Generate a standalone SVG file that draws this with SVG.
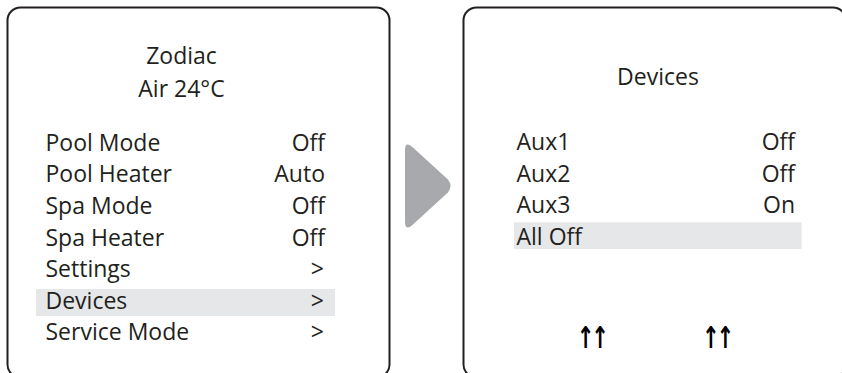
<svg xmlns="http://www.w3.org/2000/svg" width="842" height="373" viewBox="0 0 842 373">
<style>
.panel{fill:#fff;stroke:#231f20;stroke-width:2}
.hl{fill:#e6e7e8}
text{font-family:"Open Sans","Noto Sans","Liberation Sans",sans-serif;font-size:23px;fill:#231f20}
.m{text-anchor:middle}
.r{text-anchor:end}
.arr{font-family:"DejaVu Sans",sans-serif;font-weight:bold;font-size:30px;letter-spacing:-4.4px;fill:#000;font-variant-emoji:text}
</style>
<rect width="842" height="373" fill="#fff"/>
<g id="screen-main">
<rect class="panel" x="7.5" y="7.5" width="382" height="370" rx="13" ry="13"/>
<text class="m" x="181.5" y="64">Zodiac</text>
<text class="m" x="181.5" y="96.5">Air 24°C</text>
<rect class="hl" x="36" y="289" width="299" height="27"/>
<text x="45.5" y="150.7">Pool Mode</text><text class="r" x="325" y="150.7">Off</text>
<text x="45.5" y="182">Pool Heater</text><text class="r" x="325" y="182">Auto</text>
<text x="45.5" y="214">Spa Mode</text><text class="r" x="325" y="214">Off</text>
<text x="45.5" y="245.5">Spa Heater</text><text class="r" x="325" y="245.5">Off</text>
<text x="45.5" y="277">Settings</text><text class="r" x="324" y="277">&gt;</text>
<text x="45.5" y="308.5">Devices</text><text class="r" x="324" y="308.5">&gt;</text>
<text x="45.5" y="340">Service Mode</text><text class="r" x="324" y="340">&gt;</text>
</g>
<g id="connectors">
<path d="M406,150 Q406,142 412,148 L447,180 Q452,186 447,192 L412,224 Q406,230 406,222 Z" fill="#a7a9ac" stroke="#a7a9ac" stroke-width="2" stroke-linejoin="round"/>
</g>
<g id="screen-devices">
<rect class="panel" x="463.5" y="7.5" width="382.5" height="370" rx="13" ry="13"/>
<text class="m" x="658" y="85">Devices</text>
<rect class="hl" x="514" y="222.3" width="287.7" height="26.7"/>
<text x="516.5" y="150">Aux1</text><text class="r" x="795" y="150">Off</text>
<text x="516.5" y="181.5">Aux2</text><text class="r" x="795" y="181.5">Off</text>
<text x="516.5" y="213">Aux3</text><text class="r" x="795" y="213">On</text>
<text x="516.5" y="245">All Off</text>
<text class="arr" transform="translate(576.7,348) scale(0.7,1)">↑↑</text>
<text class="arr" transform="translate(702,348) scale(0.7,1)">↑↑</text>
</g>
</svg>
